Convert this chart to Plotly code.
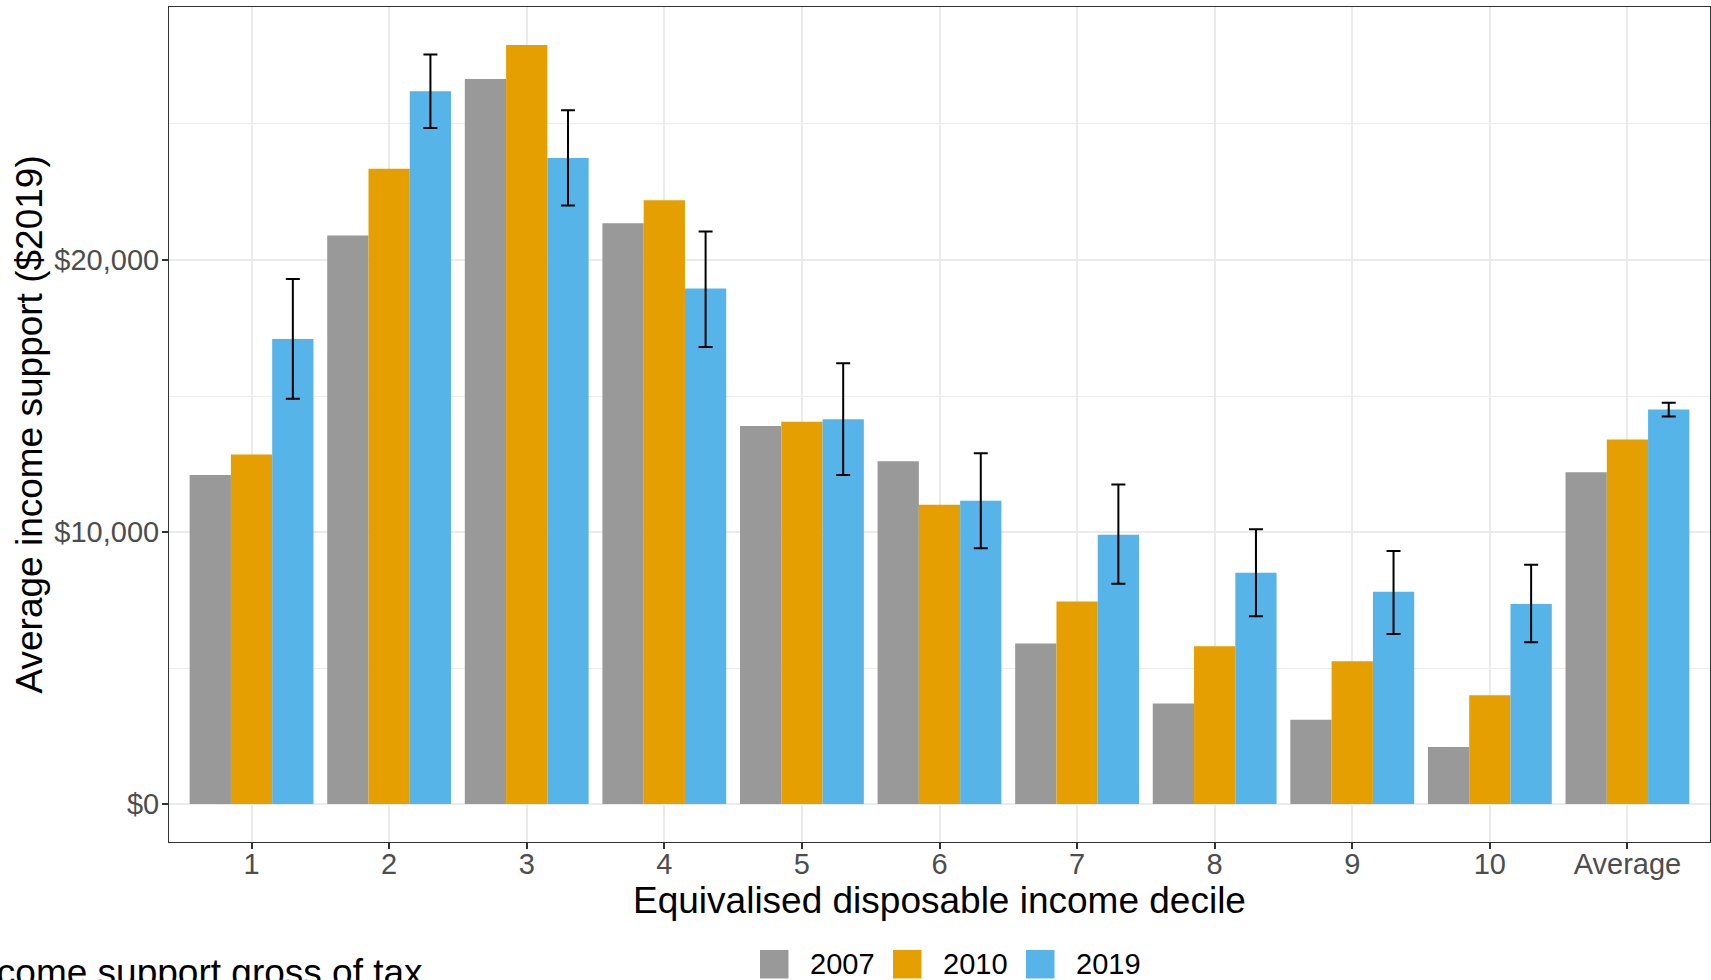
import plotly.graph_objects as go

# Categories on the x axis
deciles = ["1", "2", "3", "4", "5", "6", "7", "8", "9", "10", "Average"]
years = ["2007", "2010", "2019"]

# Average income support by decile ($2019)
support_2007 = [12100, 20900, 26650, 21350, 13900, 12600, 5900, 3700, 3100, 2100, 12200]
support_2010 = [12850, 23350, 27900, 22200, 14050, 11000, 7450, 5800, 5250, 4000, 13400]
support_2019 = [17100, 26200, 23750, 18950, 14150, 11150, 9900, 8500, 7800, 7350, 14500]

# Confidence interval bounds for 2019
ci_low_2019 = [14900, 24850, 22000, 16800, 12100, 9400, 8100, 6900, 6250, 5950, 14250]
ci_high_2019 = [19300, 27550, 25500, 21050, 16200, 12900, 11750, 10100, 9300, 8800, 14750]

y_ticks = [0, 10000, 20000]

colors = {"2007": "#999999", "2010": "#E69F00", "2019": "#56B4E9"}

W, H = 1711, 980
L, R, T, B = 169, 1, 7, 138
PW, PH = W - L - R, H - T - B
FONT = "Liberation Sans, Arial, sans-serif"


def px_x(px):
    return (px - L) / PW


def px_y(py):
    return (H - B - py) / PH


fig = go.Figure()
series = {"2007": support_2007, "2010": support_2010, "2019": support_2019}
for year in years:
    vals = series[year]
    if year == "2019":
        err = dict(
            type="data",
            symmetric=False,
            array=[h - v for h, v in zip(ci_high_2019, vals)],
            arrayminus=[v - lo for v, lo in zip(vals, ci_low_2019)],
            color="black",
            thickness=2,
            width=7,
        )
    else:
        err = dict(visible=False)
    fig.add_trace(go.Bar(
        x=deciles, y=vals, name=year,
        marker=dict(color=colors[year], line=dict(width=0)),
        error_y=err, showlegend=False,
    ))

fig.update_layout(
    width=W, height=H,
    margin=dict(l=L, r=R, t=T, b=B, autoexpand=False),
    paper_bgcolor="white", plot_bgcolor="white",
    barmode="group", bargap=0.1, bargroupgap=0,
    font=dict(family=FONT, color="black"),
    xaxis=dict(
        type="category", range=[-0.6, 10.6],
        showgrid=True, gridcolor="#EBEBEB", gridwidth=2,
        ticks="outside", ticklen=6, tickwidth=1.5, tickcolor="#333333",
        ticklabelstandoff=-10,
        showline=True, mirror=True, linecolor="#333333", linewidth=1,
        tickfont=dict(size=29, color="#4D4D4D", family=FONT),
        title=dict(text="Equivalised disposable income decile",
                   font=dict(size=37, color="black", family=FONT), standoff=8),
        zeroline=False,
    ),
    yaxis=dict(
        range=[-1395, 29300],
        tickvals=y_ticks, tickformat="$,.0f",
        showgrid=True, gridcolor="#EBEBEB", gridwidth=2,
        minor=dict(dtick=5000, tick0=0, showgrid=True, gridcolor="#EBEBEB", gridwidth=1),
        ticks="outside", ticklen=6, tickwidth=1.5, tickcolor="#333333",
        ticklabelstandoff=-3,
        showline=True, mirror=True, linecolor="#333333", linewidth=1,
        tickfont=dict(size=29, color="#4D4D4D", family=FONT),
        zeroline=False,
    ),
)

# Legend drawn below the x-axis title
swatch_left = [760, 893, 1026]
swatch_size = 28.5
swatch_top = 950
shapes = []
annotations = []
for year, sx in zip(years, swatch_left):
    shapes.append(dict(
        type="rect", xref="paper", yref="paper",
        x0=px_x(sx), x1=px_x(sx + swatch_size),
        y0=px_y(swatch_top + swatch_size), y1=px_y(swatch_top),
        fillcolor=colors[year], line=dict(width=0),
    ))
    annotations.append(dict(
        text=year, xref="paper", yref="paper",
        x=px_x(sx + 48), y=px_y(swatch_top + swatch_size / 2),
        xanchor="left", yanchor="middle", showarrow=False,
        font=dict(size=29, color="black", family=FONT),
    ))

# Y-axis title
annotations.append(dict(
    text="Average income support ($2019)", xref="paper", yref="paper",
    x=px_x(29), y=0.5, xanchor="center", yanchor="middle", textangle=-90,
    showarrow=False, font=dict(size=37, color="black", family=FONT),
))

# Caption at the bottom-left edge
annotations.append(dict(
    text="Income support gross of tax", xref="paper", yref="paper",
    x=px_x(-36), y=px_y(950), xanchor="left", yanchor="top",
    showarrow=False, font=dict(size=37, color="black", family=FONT),
))

fig.update_layout(shapes=shapes, annotations=annotations)

fig.write_html("out.html")
